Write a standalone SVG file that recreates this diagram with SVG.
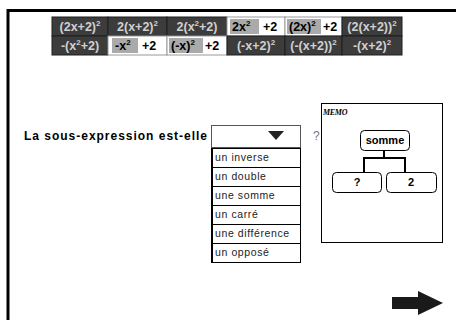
<svg xmlns="http://www.w3.org/2000/svg" width="457" height="320" viewBox="0 0 457 320">
<style>
.frame{stroke:#000;stroke-width:3;fill:none}
.dk{fill:#3c3c3c;stroke:#1e1e1e;stroke-width:1}
.wh{fill:#fff;stroke:#999;stroke-width:1}
.hl{fill:#aaa}
.td{font-family:"Liberation Sans",Arial,sans-serif;font-weight:bold;font-size:12.5px;fill:#d0d0d0;text-anchor:middle}
.tw{font-family:"Liberation Sans",Arial,sans-serif;font-weight:bold;font-size:12.5px;fill:#000}
.sup{font-size:8px}
.lbl{font-family:"Liberation Sans",Arial,sans-serif;font-weight:bold;font-size:12px;fill:#000}
.item{font-family:"Liberation Sans",Arial,sans-serif;font-size:10.5px;fill:#222;letter-spacing:0.6px}
.ibox{fill:#fff;stroke:#000;stroke-width:1}
.node{fill:#fff;stroke:#000;stroke-width:1}
.nt{font-family:"Liberation Sans",Arial,sans-serif;font-weight:bold;font-size:11px;fill:#000;text-anchor:middle}
.conn{stroke:#000;stroke-width:2;fill:none}
</style>
<g id="frame">
<path class="frame" d="M8 320 V10.5 H456"/>
</g>
<g id="table">
<rect class="dk" x="52" y="17" width="56" height="19"/>
<rect class="dk" x="108" y="17" width="59" height="19"/>
<rect class="dk" x="167" y="17" width="60" height="19"/>
<rect class="wh" x="227" y="17" width="58" height="19"/>
<rect class="wh" x="285" y="17" width="57" height="19"/>
<rect class="dk" x="342" y="17" width="60" height="19"/>
<rect class="dk" x="52" y="36" width="56" height="19"/>
<rect class="wh" x="108" y="36" width="59" height="19"/>
<rect class="wh" x="167" y="36" width="60" height="19"/>
<rect class="dk" x="227" y="36" width="58" height="19"/>
<rect class="dk" x="285" y="36" width="57" height="19"/>
<rect class="dk" x="342" y="36" width="60" height="19"/>
<rect class="hl" x="230" y="19" width="29" height="15"/>
<rect class="hl" x="287" y="19" width="34" height="15"/>
<rect class="hl" x="112" y="38" width="26" height="15"/>
<rect class="hl" x="169" y="38" width="34" height="15"/>
<text class="td" x="80" y="31">(2x+2)<tspan class="sup" dy="-5">2</tspan></text>
<text class="td" x="137.5" y="31">2(x+2)<tspan class="sup" dy="-5">2</tspan></text>
<text class="td" x="197" y="31">2(x<tspan class="sup" dy="-5">2</tspan><tspan dy="5">+2)</tspan></text>
<text class="tw" x="232" y="31">2x<tspan class="sup" dy="-5">2</tspan></text>
<text class="tw" x="263" y="31">+2</text>
<text class="tw" x="289" y="31">(2x)<tspan class="sup" dy="-5">2</tspan></text>
<text class="tw" x="323" y="31">+2</text>
<text class="td" x="372" y="31">(2(x+2))<tspan class="sup" dy="-5">2</tspan></text>
<text class="td" x="80" y="50">-(x<tspan class="sup" dy="-5">2</tspan><tspan dy="5">+2)</tspan></text>
<text class="tw" x="115" y="50">-x<tspan class="sup" dy="-5">2</tspan></text>
<text class="tw" x="142" y="50">+2</text>
<text class="tw" x="171" y="50">(-x)<tspan class="sup" dy="-5">2</tspan></text>
<text class="tw" x="205" y="50">+2</text>
<text class="td" x="256" y="50">(-x+2)<tspan class="sup" dy="-5">2</tspan></text>
<text class="td" x="313.5" y="50">(-(x+2))<tspan class="sup" dy="-5">2</tspan></text>
<text class="td" x="372" y="50">-(x+2)<tspan class="sup" dy="-5">2</tspan></text>
</g>
<g id="question">
<text class="lbl" x="24" y="140" textLength="183" lengthAdjust="spacing">La sous-expression est-elle</text>
<text x="313" y="140" font-family="Liberation Sans,Arial,sans-serif" font-size="12" fill="#777">?</text>
</g>
<g id="dropdown">
<rect x="211.5" y="125.5" width="89" height="22" fill="#fff" stroke="#555" stroke-width="1"/>
<polygon points="268,131 284,131 276,140" fill="#222"/>
</g>
<g id="options">
<rect class="ibox" x="211.5" y="148.5" width="89" height="19"/>
<rect class="ibox" x="211.5" y="167.5" width="89" height="19"/>
<rect class="ibox" x="211.5" y="186.5" width="89" height="19"/>
<rect class="ibox" x="211.5" y="205.5" width="89" height="19"/>
<rect class="ibox" x="211.5" y="224.5" width="89" height="19"/>
<rect class="ibox" x="211.5" y="243.5" width="89" height="19"/>
<line x1="212" y1="148" x2="212" y2="263" stroke="#000" stroke-width="2"/>
<text class="item" x="215" y="161">un inverse</text>
<text class="item" x="215" y="180">un double</text>
<text class="item" x="215" y="199">une somme</text>
<text class="item" x="215" y="218">un carré</text>
<text class="item" x="215" y="237">une différence</text>
<text class="item" x="215" y="256">un opposé</text>
</g>
<g id="memo">
<rect x="321.5" y="103.5" width="121" height="139" fill="#fff" stroke="#000" stroke-width="1"/>
<text x="323" y="115" font-family="Liberation Serif,serif" font-style="italic" font-weight="bold" font-size="8" fill="#000" letter-spacing="-0.3">MEMO</text>
</g>
<g id="connectors">
<path class="conn" d="M384 150 V158 M364 158 H405 M364 157 V172 M405 157 V172"/>
</g>
<g id="node-somme">
<rect class="node" x="360.5" y="130.5" width="49" height="20" rx="4"/>
<text class="nt" x="385" y="144">somme</text>
</g>
<g id="node-q">
<rect class="node" x="332.5" y="172.5" width="49" height="20" rx="4"/>
<text class="nt" x="357" y="186">?</text>
</g>
<g id="node-2">
<rect class="node" x="386.5" y="172.5" width="50" height="20" rx="4"/>
<text class="nt" x="411" y="186">2</text>
</g>
<g id="next-arrow">
<polygon points="392,297 418,297 418,291 443,303 418,315 418,309 392,309" fill="#1a1a1a"/>
</g>
</svg>
